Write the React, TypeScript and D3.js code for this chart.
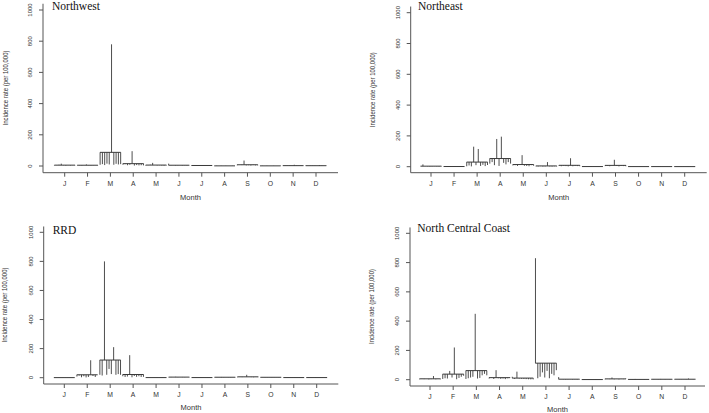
import React from "react";
import * as d3 from "d3";

const months = ["J", "F", "M", "A", "M", "J", "J", "A", "S", "O", "N", "D"];
const yTicks = [0, 200, 400, 600, 800, 1000];
const regionNames = ["Northwest", "Northeast", "RRD", "North Central Coast"];

// 10 yearly values per month (incidence per 100,000)
const northwest = [
  [3, 5, 8, 15, 4, 2, 6, 3, 5, 4],
  [4, 6, 3, 5, 10, 4, 3, 6, 5, 4],
  [8, 12, 6, 15, 10, 780, 8, 14, 10, 12],
  [8, 12, 5, 8, 95, 3, 6, 4, 5, 4],
  [3, 5, 8, 20, 6, 4, 5, 3, 2, 4],
  [15, 4, 5, 3, 4, 5, 3, 4, 3, 4],
  [3, 4, 2, 5, 3, 4, 2, 3, 5, 2],
  [1, 2, 1, 0, 1, 2, 1, 1, 0, 1],
  [5, 8, 6, 35, 4, 5, 3, 6, 4, 4],
  [1, 0, 1, 2, 1, 1, 0, 1, 1, 2],
  [2, 1, 3, 1, 2, 8, 1, 2, 1, 2],
  [1, 2, 1, 3, 1, 2, 6, 1, 2, 1],
];
const northeast = [
  [4, 15, 3, 2, 1, 2, 3, 2, 1, 2],
  [1, 1, 2, 1, 0, 1, 1, 2, 1, 1],
  [3, 8, 2, 130, 10, 115, 5, 12, 4, 11],
  [20, 30, 10, 180, 5, 195, 25, 15, 30, 20],
  [8, 10, 5, 12, 75, 6, 5, 3, 10, 6],
  [3, 2, 4, 1, 2, 30, 2, 1, 3, 2],
  [5, 3, 6, 4, 2, 55, 3, 5, 4, 3],
  [1, 0, 1, 1, 2, 1, 0, 1, 1, 1],
  [4, 6, 3, 8, 45, 5, 2, 6, 4, 3],
  [1, 1, 0, 1, 1, 0, 1, 1, 0, 1],
  [1, 0, 1, 1, 0, 1, 1, 0, 1, 1],
  [0, 1, 1, 0, 1, 1, 0, 1, 1, 0],
];
const rrd = [
  [1, 0, 1, 1, 0, 1, 0, 1, 1, 0],
  [8, 15, 3, 10, 2, 5, 120, 12, 5, 20],
  [20, 15, 800, 20, 60, 25, 210, 20, 25, 20],
  [10, 5, 8, 155, 3, 12, 6, 10, 5, 6],
  [1, 0, 1, 1, 0, 2, 1, 0, 1, 1],
  [3, 5, 4, 6, 3, 4, 5, 3, 4, 3],
  [1, 1, 0, 1, 2, 1, 1, 0, 1, 1],
  [2, 4, 3, 5, 2, 3, 4, 2, 3, 4],
  [3, 5, 4, 6, 20, 5, 4, 3, 5, 4],
  [2, 3, 4, 2, 3, 4, 2, 3, 2, 3],
  [1, 1, 0, 1, 1, 2, 1, 0, 1, 1],
  [1, 0, 1, 1, 2, 1, 0, 1, 1, 1],
];
const northCentralCoast = [
  [3, 5, 4, 6, 2, 4, 25, 3, 5, 3],
  [5, 10, 8, 60, 15, 220, 3, 12, 20, 27],
  [5, 10, 15, 20, 450, 8, 12, 30, 40, 30],
  [8, 12, 5, 65, 10, 6, 8, 4, 10, 12],
  [20, 5, 55, 8, 6, 5, 4, 3, 2, 2],
  [830, 10, 20, 50, 15, 60, 10, 40, 30, 65],
  [18, 3, 2, 1, 2, 3, 1, 2, 1, 2],
  [1, 2, 1, 0, 1, 1, 2, 1, 1, 0],
  [3, 5, 4, 15, 3, 5, 2, 6, 4, 8],
  [3, 2, 1, 5, 2, 1, 2, 1, 2, 1],
  [2, 4, 3, 2, 5, 3, 2, 3, 2, 4],
  [2, 3, 2, 4, 3, 2, 8, 3, 2, 3],
];

const regionData = [northwest, northeast, rrd, northCentralCoast];

// layout per panel (pixel geometry)
const panels = [
  { axisX: 43, xJ: 64.7, xD: 316, xEnd: 338, y0: 166, y1000: 10, xAxisY: 172.7, monthDy: 10.6, labelDy: 24.8, ylabX: 6, titleX: 52, titleY: 9.5 },
  { axisX: 410.7, xJ: 431, xD: 684.7, xEnd: 706.7, y0: 166.7, y1000: 12.7, xAxisY: 172.7, monthDy: 10.6, labelDy: 25, ylabX: 372.7, titleX: 418, titleY: 9.8 },
  { axisX: 43.7, xJ: 64.3, xD: 316.7, xEnd: 338.3, y0: 377.7, y1000: 232.3, xAxisY: 384, monthDy: 10.3, labelDy: 23, ylabX: 5, titleX: 52.7, titleY: 234.3 },
  { axisX: 410, xJ: 430, xD: 685, xEnd: 705, y0: 379.7, y1000: 233.3, xAxisY: 386, monthDy: 10.7, labelDy: 23.7, ylabX: 371.7, titleX: 417.3, titleY: 231.7 },
];

const LINE = "#3a3a3a";
const AXIS = "#555";
const TEXT = "#333";
const SANS = "'Liberation Sans', Arial, sans-serif";
const SERIF = "'Liberation Serif', 'Times New Roman', serif";

function Panel({ idx }: { idx: number }) {
  const p = panels[idx];
  const data = regionData[idx];
  const x = d3.scaleLinear().domain([1, 12]).range([p.xJ, p.xD]);
  const y = d3.scaleLinear().domain([0, 1000]).range([p.y0, p.y1000]);
  const top = y(1040);
  const yMid = (y(0) + y(1000)) / 2;
  const xMid = (p.axisX + p.xEnd) / 2;
  const n = data[0].length;
  const off = (j: number) => (j - (n - 1) / 2) * 0.1;

  return (
    <g>
      <line x1={p.axisX} x2={p.axisX} y1={top} y2={p.xAxisY} stroke={AXIS} strokeWidth={1} />
      <line x1={p.axisX} x2={p.xEnd} y1={p.xAxisY} y2={p.xAxisY} stroke={AXIS} strokeWidth={1} />
      {yTicks.map((t) => (
        <g key={t}>
          <line x1={p.axisX - 4} x2={p.axisX} y1={y(t)} y2={y(t)} stroke={AXIS} />
          <text
            transform={`translate(${p.axisX - 11},${y(t)}) rotate(-90)`}
            textAnchor="middle"
            fontSize={6}
            fontFamily={SANS}
            fill={TEXT}
          >
            {t}
          </text>
        </g>
      ))}
      {months.map((m, i) => (
        <g key={i}>
          <line x1={x(i + 1)} x2={x(i + 1)} y1={p.xAxisY} y2={p.xAxisY + 4} stroke={AXIS} />
          <text
            x={x(i + 1)}
            y={p.xAxisY + p.monthDy}
            dy="0.35em"
            textAnchor="middle"
            fontSize={6.8}
            fontFamily={SANS}
            fill={TEXT}
          >
            {m}
          </text>
        </g>
      ))}
      <text x={xMid} y={p.xAxisY + p.labelDy} dy="0.35em" textAnchor="middle" fontSize={7.5} fontFamily={SANS} fill={TEXT}>
        Month
      </text>
      <text
        transform={`translate(${p.ylabX},${yMid}) rotate(-90)`}
        dy="0.35em"
        textAnchor="middle"
        fontSize={6.5}
        fontFamily={SANS}
        fill={TEXT}
        textLength={75}
        lengthAdjust="spacingAndGlyphs"
      >
        Incidence rate (per 100,000)
      </text>
      <text x={p.titleX} y={p.titleY} fontSize={11.5} fontFamily={SERIF} fill="#111">
        {regionNames[idx]}
      </text>
      {data.map((vals, i) => {
        const mean = d3.mean(vals) as number;
        const m = i + 1;
        return (
          <g key={i}>
            <line x1={x(m + off(0) - 0.005)} x2={x(m + off(n - 1) + 0.005)} y1={y(mean)} y2={y(mean)} stroke={LINE} strokeWidth={1} />
            {vals.map((v, j) => (
              <line key={j} x1={x(m + off(j))} x2={x(m + off(j))} y1={y(mean)} y2={y(v)} stroke={LINE} strokeWidth={0.9} />
            ))}
          </g>
        );
      })}
    </g>
  );
}

export default function App() {
  return (
    <svg
      width={709}
      height={413}
      style={{ position: "absolute", left: 0, top: 0, background: "#fff" }}
    >
      <rect width={709} height={413} fill="#fff" />
      {panels.map((_, i) => (
        <Panel key={i} idx={i} />
      ))}
    </svg>
  );
}
